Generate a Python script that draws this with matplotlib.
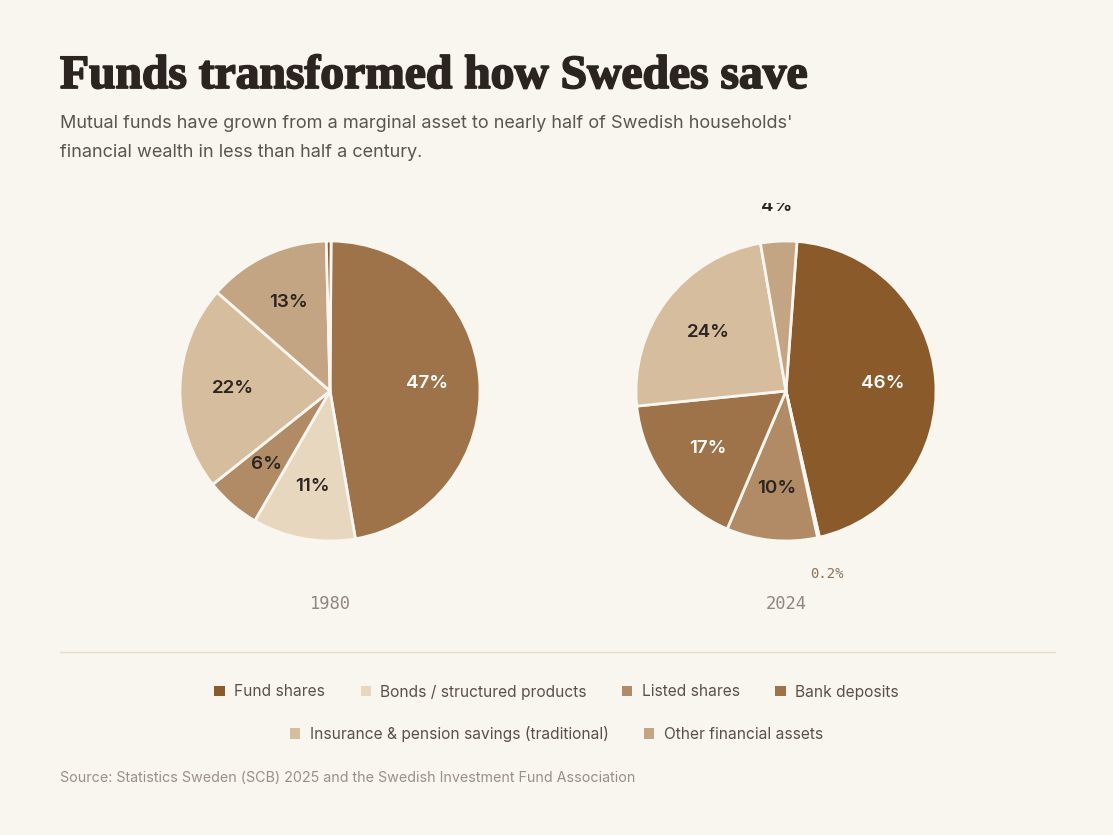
import numpy as np
import matplotlib
matplotlib.use("Agg")
import matplotlib.pyplot as plt
import matplotlib.patheffects as pe
from matplotlib.patches import Patch
from matplotlib.transforms import Bbox

# data
categories = ["Fund shares", "Bonds / structured products", "Listed shares",
              "Bank deposits", "Insurance & pension savings (traditional)",
              "Other financial assets"]
colors = ["#8b5a2b", "#e8d7bf", "#b08b66", "#9e7349", "#d6bd9e", "#c4a583"]

# clockwise order from 12 o'clock, as drawn in the chart
order_1980 = [3, 1, 2, 4, 5, 0]
values_1980 = [46.9, 11.0, 5.9, 22.0, 13.1, 0.5]
labels_1980 = ["47%", "11%", "6%", "22%", "13%", ""]

order_2024 = [0, 1, 2, 3, 4, 5]
values_2024 = [45.3, 0.2, 9.8, 17.0, 23.9, 3.9]
labels_2024 = ["46%", "0.2%", "10%", "17%", "24%", "4%"]

years = ["1980", "2024"]

BG = "#f9f6ef"
DARK = "#2b2420"
W, H = 1113, 835

fig = plt.figure(figsize=(W / 100, H / 100), dpi=100, facecolor=BG)

# anything above this line (px from top) is cut off, like in the original
clip = Bbox([[0, 0], [W, H - 203]])


def px_axes(cx, cy, r):
    return fig.add_axes([(cx - r) / W, (H - cy - r) / H, 2 * r / W, 2 * r / H])


def draw_pie(ax, vals, order, labels, year, start):
    cols = [colors[i] for i in order]
    wedges, _ = ax.pie(vals, colors=cols, startangle=start, counterclock=False,
                       wedgeprops=dict(edgecolor=BG, linewidth=2))
    for w, lab, v, c in zip(wedges, labels, vals, cols):
        if not lab:
            continue
        mid = np.deg2rad((w.theta1 + w.theta2) / 2)
        if v >= 5:
            d = 0.65
            tc = "white" if c in ("#8b5a2b", "#9e7349") else DARK
            ax.text(d * np.cos(mid), d * np.sin(mid), lab, ha="center", va="center",
                    fontsize=13.5, fontweight="semibold", family="Inter", color=tc)
        elif v < 1:
            d = 1.25
            ax.text(d * np.cos(mid), d * np.sin(mid), lab, ha="center", va="center",
                    fontsize=10, family="DejaVu Sans Mono", color="#8a7358")
        else:
            d = 1.23
            t = ax.text(d * np.cos(mid), d * np.sin(mid), lab, ha="center", va="center",
                        fontsize=13.5, fontweight="semibold", family="Inter", color=DARK)
            t.set_clip_box(clip)
            t.set_clip_on(True)
    ax.text(0, -1.42, year, ha="center", va="center", fontsize=12.3,
            family="DejaVu Sans Mono", color="#918780")
    ax.set_xlim(-1, 1)
    ax.set_ylim(-1, 1)
    ax.set_aspect("equal")
    ax.axis("off")


ax1 = px_axes(330, 391, 150)
draw_pie(ax1, values_1980, order_1980, labels_1980, years[0], 89.6)
ax2 = px_axes(786, 391, 150)
draw_pie(ax2, values_2024, order_2024, labels_2024, years[1], 85.8)

# title, fitted to reference width
title = fig.text(60 / W, 1 - 88 / H, "Funds transformed how Swedes save",
                 fontsize=34, fontweight="bold", family="Liberation Serif",
                 color=DARK, va="baseline",
                 path_effects=[pe.withStroke(linewidth=1.3, foreground=DARK)])
fig.canvas.draw()
bb = title.get_window_extent()
title.set_fontsize(34 * 748 / bb.width)

fig.text(60 / W, 1 - 128 / H,
         "Mutual funds have grown from a marginal asset to nearly half of Swedish households'",
         fontsize=13.05, family="Inter", color="#5b5550", va="baseline")
fig.text(60 / W, 1 - 157 / H, "financial wealth in less than half a century.",
         fontsize=13.05, family="Inter", color="#5b5550", va="baseline")

# divider
fig.add_artist(plt.Line2D([60 / W, 1055 / W], [1 - 652 / H, 1 - 652 / H],
                          color="#e8dccb", linewidth=1))

# legend in two centred rows
handles = [Patch(facecolor=c, edgecolor="none") for c in colors]
leg_kw = dict(frameon=False, handlelength=0.65, handleheight=0.65,
              handletextpad=0.6, columnspacing=2.3, loc="center",
              prop={"family": "Inter", "size": 11.2})
leg1 = fig.legend(handles[:4], categories[:4], ncol=4,
                  bbox_to_anchor=(0.5, 1 - 692 / H), **leg_kw)
for t in leg1.get_texts():
    t.set_color("#5b5048")
leg2 = fig.legend(handles[4:], categories[4:], ncol=2,
                  bbox_to_anchor=(0.5, 1 - 734 / H), **leg_kw)
for t in leg2.get_texts():
    t.set_color("#5b5048")

fig.text(60 / W, 1 - 782 / H,
         "Source: Statistics Sweden (SCB) 2025 and the Swedish Investment Fund Association",
         fontsize=10.3, family="Inter", color="#9a8f85", va="baseline")

fig.savefig("out.png", dpi=100, facecolor=BG)
